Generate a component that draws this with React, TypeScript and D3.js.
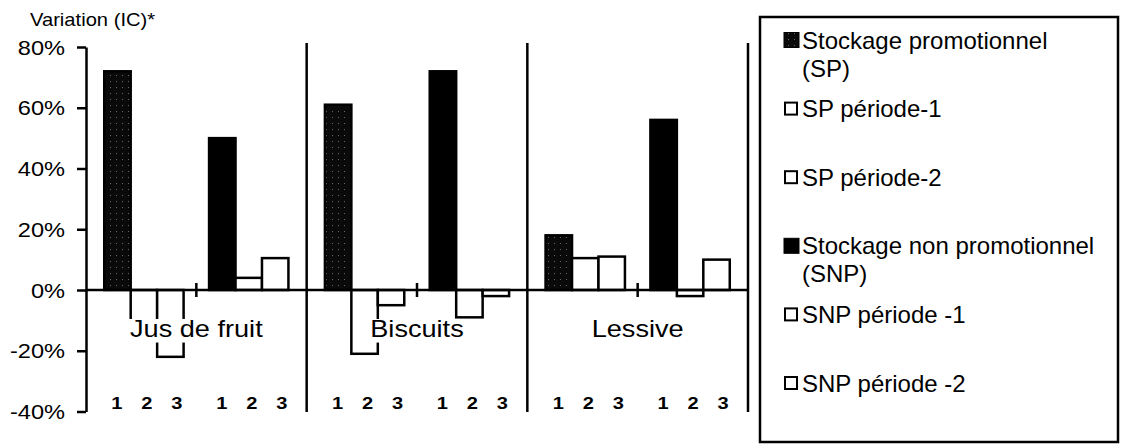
import React, { useRef, useEffect } from "react";
import * as d3 from "d3";

const categories = ["Jus de fruit", "Biscuits", "Lessive"];
const groups = ["SP", "SNP"];
const periods = ["p0", "p1", "p2"];
const tickLabels = ["1", "2", "3"];
const yTicks = [-40, -20, 0, 20, 40, 60, 80];

// variation in %, one value per category
const spValues = [72, 61, 18];
const spP1Values = [-13, -21, 10.5];
const spP2Values = [-22, -5, 11];
const snpValues = [50, 72, 56];
const snpP1Values = [4, -9, -2];
const snpP2Values = [10.5, -2, 10];

const legendLabels = [
  ["Stockage promotionnel", "(SP)"],
  ["SP période-1"],
  ["SP période-2"],
  ["Stockage non promotionnel", "(SNP)"],
  ["SNP période -1"],
  ["SNP période -2"],
];

const W = 1122;
const H = 445;
const SX = 1.18; // chart texts are a bit wide in the scan
const FONT = "'Liberation Sans', Arial, sans-serif";

const App: React.FC = () => {
  const svgRef = useRef<SVGSVGElement | null>(null);

  useEffect(() => {
    if (!svgRef.current) return;
    const svg = d3.select(svgRef.current);
    svg.selectAll("*").remove();

    const seriesByGroup: Record<string, number[][]> = {
      SP: [spValues, spP1Values, spP2Values],
      SNP: [snpValues, snpP1Values, snpP2Values],
    };
    const fills: Record<string, string[]> = {
      SP: ["url(#spPat)", "#fff", "#fff"],
      SNP: ["#000", "#fff", "#fff"],
    };

    // speckled pattern for the promotional bars
    const defs = svg.append("defs");
    const pat = defs
      .append("pattern")
      .attr("id", "spPat")
      .attr("width", 6)
      .attr("height", 6)
      .attr("patternUnits", "userSpaceOnUse");
    pat.append("rect").attr("width", 6).attr("height", 6).attr("fill", "#0a0a0a");
    pat.append("rect").attr("x", 2).attr("y", 3).attr("width", 1).attr("height", 1).attr("fill", "#666");

    // scales
    const x0 = d3.scaleBand().domain(categories).range([86, 748]);
    const x1 = d3
      .scaleBand()
      .domain(groups)
      .range([0, x0.bandwidth()])
      .paddingInner(0.243)
      .paddingOuter(0.174);
    const x2 = d3.scaleBand().domain(periods).range([0, x1.bandwidth()]);
    const y = d3.scaleLinear().domain([-40, 80]).range([411.5, 47]);

    const rows: { c: string; g: string; p: string; v: number; fill: string }[] = [];
    categories.forEach((c, ci) =>
      groups.forEach((g) =>
        periods.forEach((p, pi) =>
          rows.push({ c, g, p, v: seriesByGroup[g][pi][ci], fill: fills[g][pi] })
        )
      )
    );

    // bars
    svg
      .append("g")
      .selectAll("rect")
      .data(rows)
      .enter()
      .append("rect")
      .attr("x", (d) => x0(d.c)! + x1(d.g)! + x2(d.p)!)
      .attr("y", (d) => y(Math.max(0, d.v)))
      .attr("width", x2.bandwidth())
      .attr("height", (d) => Math.abs(y(d.v) - y(0)))
      .attr("fill", (d) => d.fill)
      .attr("stroke", "#000")
      .attr("stroke-width", 2.5);

    const lines = svg.append("g").attr("stroke", "#000").attr("stroke-width", 2.5);

    // zero line
    lines.append("line").attr("x1", 86).attr("x2", 748).attr("y1", y(0)).attr("y2", y(0));

    // category separators
    categories.forEach((c) => {
      const xx = x0(c)! + x0.bandwidth();
      lines.append("line").attr("x1", xx).attr("x2", xx).attr("y1", 43).attr("y2", 412);
    });

    // small ticks between SP and SNP groups
    categories.forEach((c) => {
      const xx = x0(c)! + x0.bandwidth() / 2;
      lines.append("line").attr("x1", xx).attr("x2", xx).attr("y1", y(0) - 7).attr("y2", y(0) + 7);
    });

    // y axis
    const yAxis = svg
      .append("g")
      .attr("transform", "translate(86,0)")
      .call(
        d3
          .axisLeft(y)
          .tickValues(yTicks)
          .tickFormat((d) => `${d}%`)
          .tickSize(9)
          .tickSizeOuter(0)
      );
    yAxis.select(".domain").attr("stroke-width", 2.5);
    yAxis.selectAll(".tick line").attr("stroke-width", 2.5);
    yAxis
      .selectAll(".tick text")
      .attr("font-family", FONT)
      .attr("font-size", 20)
      .attr("fill", "#000")
      .attr("x", -21 / SX)
      .attr("dy", "0.36em")
      .attr("transform", `scale(${SX},1)`);

    const addText = (
      x: number,
      yy: number,
      str: string,
      size: number,
      opts: { anchor?: string; weight?: string; bg?: boolean; sx?: number } = {}
    ) => {
      const { anchor = "start", weight = "normal", bg = false, sx = SX } = opts;
      const g = svg.append("g").attr("transform", `translate(${x},${yy}) scale(${sx},1)`);
      const t = g
        .append("text")
        .attr("font-family", FONT)
        .attr("font-size", size)
        .attr("font-weight", weight)
        .attr("text-anchor", anchor)
        .attr("fill", "#000")
        .text(str);
      if (bg) {
        const b = (t.node() as SVGTextElement).getBBox();
        g.insert("rect", "text")
          .attr("x", b.x - 1)
          .attr("y", b.y + 3)
          .attr("width", b.width + 2)
          .attr("height", b.height - 2)
          .attr("fill", "#fff");
      }
    };

    // axis title
    addText(30, 26, "Variation (IC)*", 18, { sx: 1.12 });

    // category labels with opaque background
    categories.forEach((c) =>
      addText(x0(c)! + x0.bandwidth() / 2, 337, c, 23, { anchor: "middle", bg: true })
    );

    // period numbers under each group
    categories.forEach((c) =>
      groups.forEach((g) => {
        const mid = x0(c)! + x1(g)! + x1.bandwidth() / 2;
        tickLabels.forEach((l, i) =>
          addText(mid + 3 + (i - 1) * 30, 409, l, 17, { anchor: "middle", weight: "bold" })
        );
      })
    );

    // legend
    svg
      .append("rect")
      .attr("x", 760)
      .attr("y", 17)
      .attr("width", 358)
      .attr("height", 425)
      .attr("fill", "#fff")
      .attr("stroke", "#000")
      .attr("stroke-width", 2.5);

    const legendFills = [fills.SP[0], "#fff", "#fff", fills.SNP[0], "#fff", "#fff"];
    legendLabels.forEach((lines2, i) => {
      const cy = 40 + i * 68.6;
      const filled = legendFills[i] !== "#fff";
      const s = filled ? 15 : 12;
      svg
        .append("rect")
        .attr("x", filled ? 784 : 785)
        .attr("y", cy - s / 2)
        .attr("width", s)
        .attr("height", s)
        .attr("fill", legendFills[i])
        .attr("stroke", "#000")
        .attr("stroke-width", filled ? 1 : 2);
      lines2.forEach((str, k) => addText(802, cy + 8.5 + k * 28, str, 24, { sx: 1 }));
    });
  }, []);

  return (
    <div style={{ position: "absolute", left: 0, top: 0 }}>
      <svg ref={svgRef} width={W} height={H} style={{ display: "block", background: "#fff" }} />
    </div>
  );
};

export default App;
